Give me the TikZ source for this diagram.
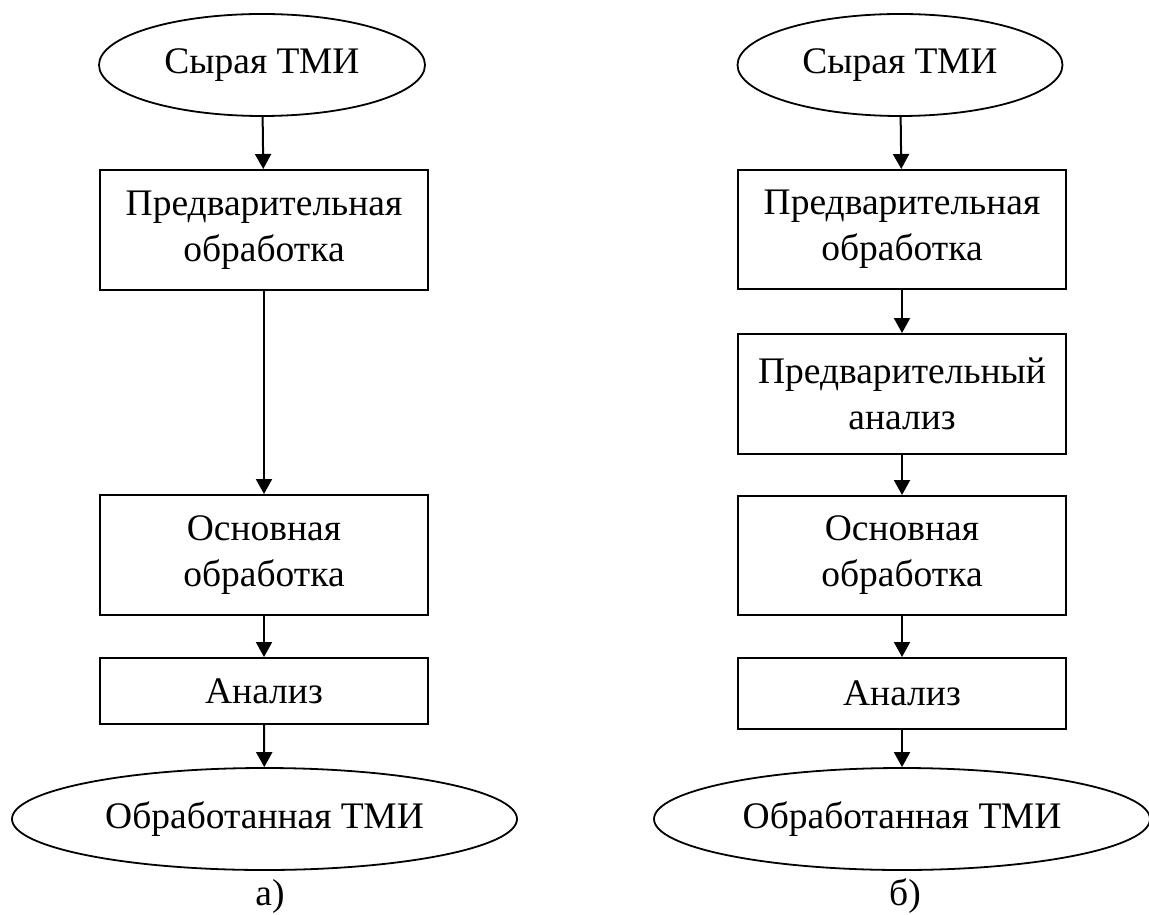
\documentclass[tikz,border=0pt]{standalone}
\usepackage{fontspec}
\setmainfont{Liberation Serif}
\usetikzlibrary{shapes.geometric,arrows.meta}
\begin{document}
\begin{tikzpicture}[x=0.5pt,y=-0.5pt,
  every node/.style={font=\fontsize{18.75}{23}\selectfont},
  stage/.style={draw,line width=1pt,minimum width=164pt,inner sep=0pt,align=center},
  term/.style={draw,ellipse,line width=0.9pt,inner sep=0pt,minimum height=51pt},
  flow/.style={-{Triangle[length=7.5pt,width=8pt]},line width=1pt}]
\useasboundingbox (0,0) rectangle (1149,914);

% scheme a)
\node[term,minimum width=163pt] (a0) at (262,65) {Сырая ТМИ};
\node[stage,minimum height=60pt] (a1) at (264,230) {Предварительная\\обработка};
\node[stage,minimum height=60pt] (a2) at (264,555) {Основная\\обработка};
\node[stage,minimum height=33pt] (a3) at (264,691) {Анализ};
\node[term,minimum width=252.5pt] (a4) at (264.5,819) {Обработанная ТМИ};
\node[anchor=base] (la) at (270,905) {а)};

\draw[flow] (a0) -- (a1);
\draw[flow] (a1) -- (a2);
\draw[flow] (a2) -- (a3);
\draw[flow] (a3) -- (a4);

% scheme б)
\node[term,minimum width=162.5pt] (b0) at (900,65) {Сырая ТМИ};
\node[stage,minimum height=59.5pt] (b1) at (902,229.5) {Предварительная\\обработка};
\node[stage,minimum height=60pt] (b2) at (902,394) {Предварительный\\анализ};
\node[stage,minimum height=59.5pt] (b3) at (902,555.5) {Основная\\обработка};
\node[stage,minimum height=35.5pt] (b4) at (902,693.5) {Анализ};
\node[term,minimum width=248pt] (b5) at (902,819) {Обработанная ТМИ};
\node[anchor=base] (lb) at (905,905) {б)};

\draw[flow] (b0) -- (b1);
\draw[flow] (b1) -- (b2);
\draw[flow] (b2) -- (b3);
\draw[flow] (b3) -- (b4);
\draw[flow] (b4) -- (b5);
\end{tikzpicture}
\end{document}
